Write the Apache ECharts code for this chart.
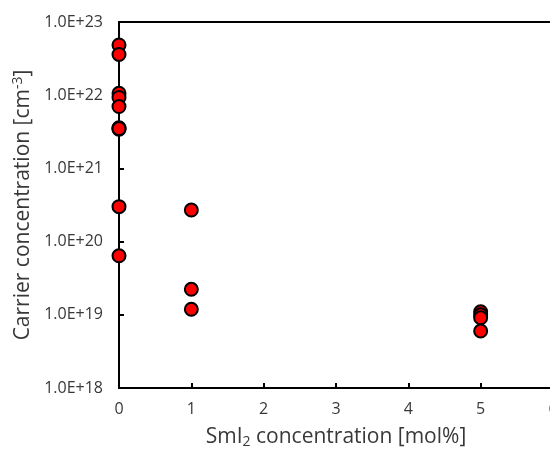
<!DOCTYPE html>
<html><head><meta charset="utf-8">
<script src="https://cdn.jsdelivr.net/npm/echarts@6/dist/echarts.min.js"></script>
<style>html,body{margin:0;padding:0;background:#fff}#c{width:550px;height:458px}</style>
</head><body><div id="c"></div>
<script>
const xValues = [0,0,0,0,0,0,0,0,0,0, 1,1,1, 5,5,5,5];
const yValues = [4.85e22,3.6e22,1.06e22,9.3e21,7.0e21,3.6e21,3.42e21,3.0e20,6.4e19,
                 3.5e21, 2.7e20,2.23e19,1.19e19, 1.1e19,1.0e19,9.1e18,6.0e18];
const xTicks = [0,1,2,3,4,5,6];
const yTicks = ['1.0E+18','1.0E+19','1.0E+20','1.0E+21','1.0E+22','1.0E+23'];

const pts = xValues.map((x,i)=>[x,yValues[i]]);
const chart = echarts.init(document.getElementById('c'));
const font = 'Open Sans, Liberation Sans, sans-serif';
chart.setOption({
  animation:false,
  grid:{left:119, top:22, right:-3, bottom:70, outerBoundsMode:'none', containLabel:false, show:true, borderColor:'#000', borderWidth:2, backgroundColor:'transparent'},
  xAxis:{type:'value', min:xTicks[0], max:xTicks[xTicks.length-1], interval:1,
    axisLine:{show:true, onZero:false, lineStyle:{color:'#000', width:2}},
    axisTick:{show:true, inside:true, length:5, lineStyle:{color:'#000', width:2}},
    splitLine:{show:false},
    axisLabel:{color:'#383838', fontSize:16, fontFamily:font, margin:13},
    name:'{a|SmI}{s|2}{a| concentration [mol%]}', nameLocation:'middle', nameGap:38,
    nameTextStyle:{rich:{a:{fontSize:21, color:'#383838', fontFamily:font}, s:{fontSize:14, color:'#383838', fontFamily:font, verticalAlign:'bottom', padding:[9,0,0,0]}}}
  },
  yAxis:{type:'log', logBase:10, min:1e18, max:1e23,
    axisLine:{show:true, lineStyle:{color:'#000', width:2}},
    axisTick:{show:true, inside:true, length:5, lineStyle:{color:'#000', width:2}},
    minorTick:{show:false},
    splitLine:{show:false},
    axisLabel:{color:'#383838', fontSize:16, fontFamily:font, margin:16,
      formatter:(v)=>{const e=Math.round(Math.log10(v)); return yTicks[e-18]||'';}},
    name:'{a|Carrier concentration [cm}{s|-3}{a|]}', nameLocation:'middle', nameGap:80, nameRotate:90,
    nameTextStyle:{rich:{a:{fontSize:21, color:'#383838', fontFamily:font}, s:{fontSize:14, color:'#383838', fontFamily:font, verticalAlign:'top', padding:[0,0,9,0]}}}
  },
  series:[{type:'scatter', data:pts, symbol:'circle', symbolSize:13,
    itemStyle:{color:'#ff0000', opacity:1, borderColor:'#000', borderWidth:2}}]
});
</script></body></html>
